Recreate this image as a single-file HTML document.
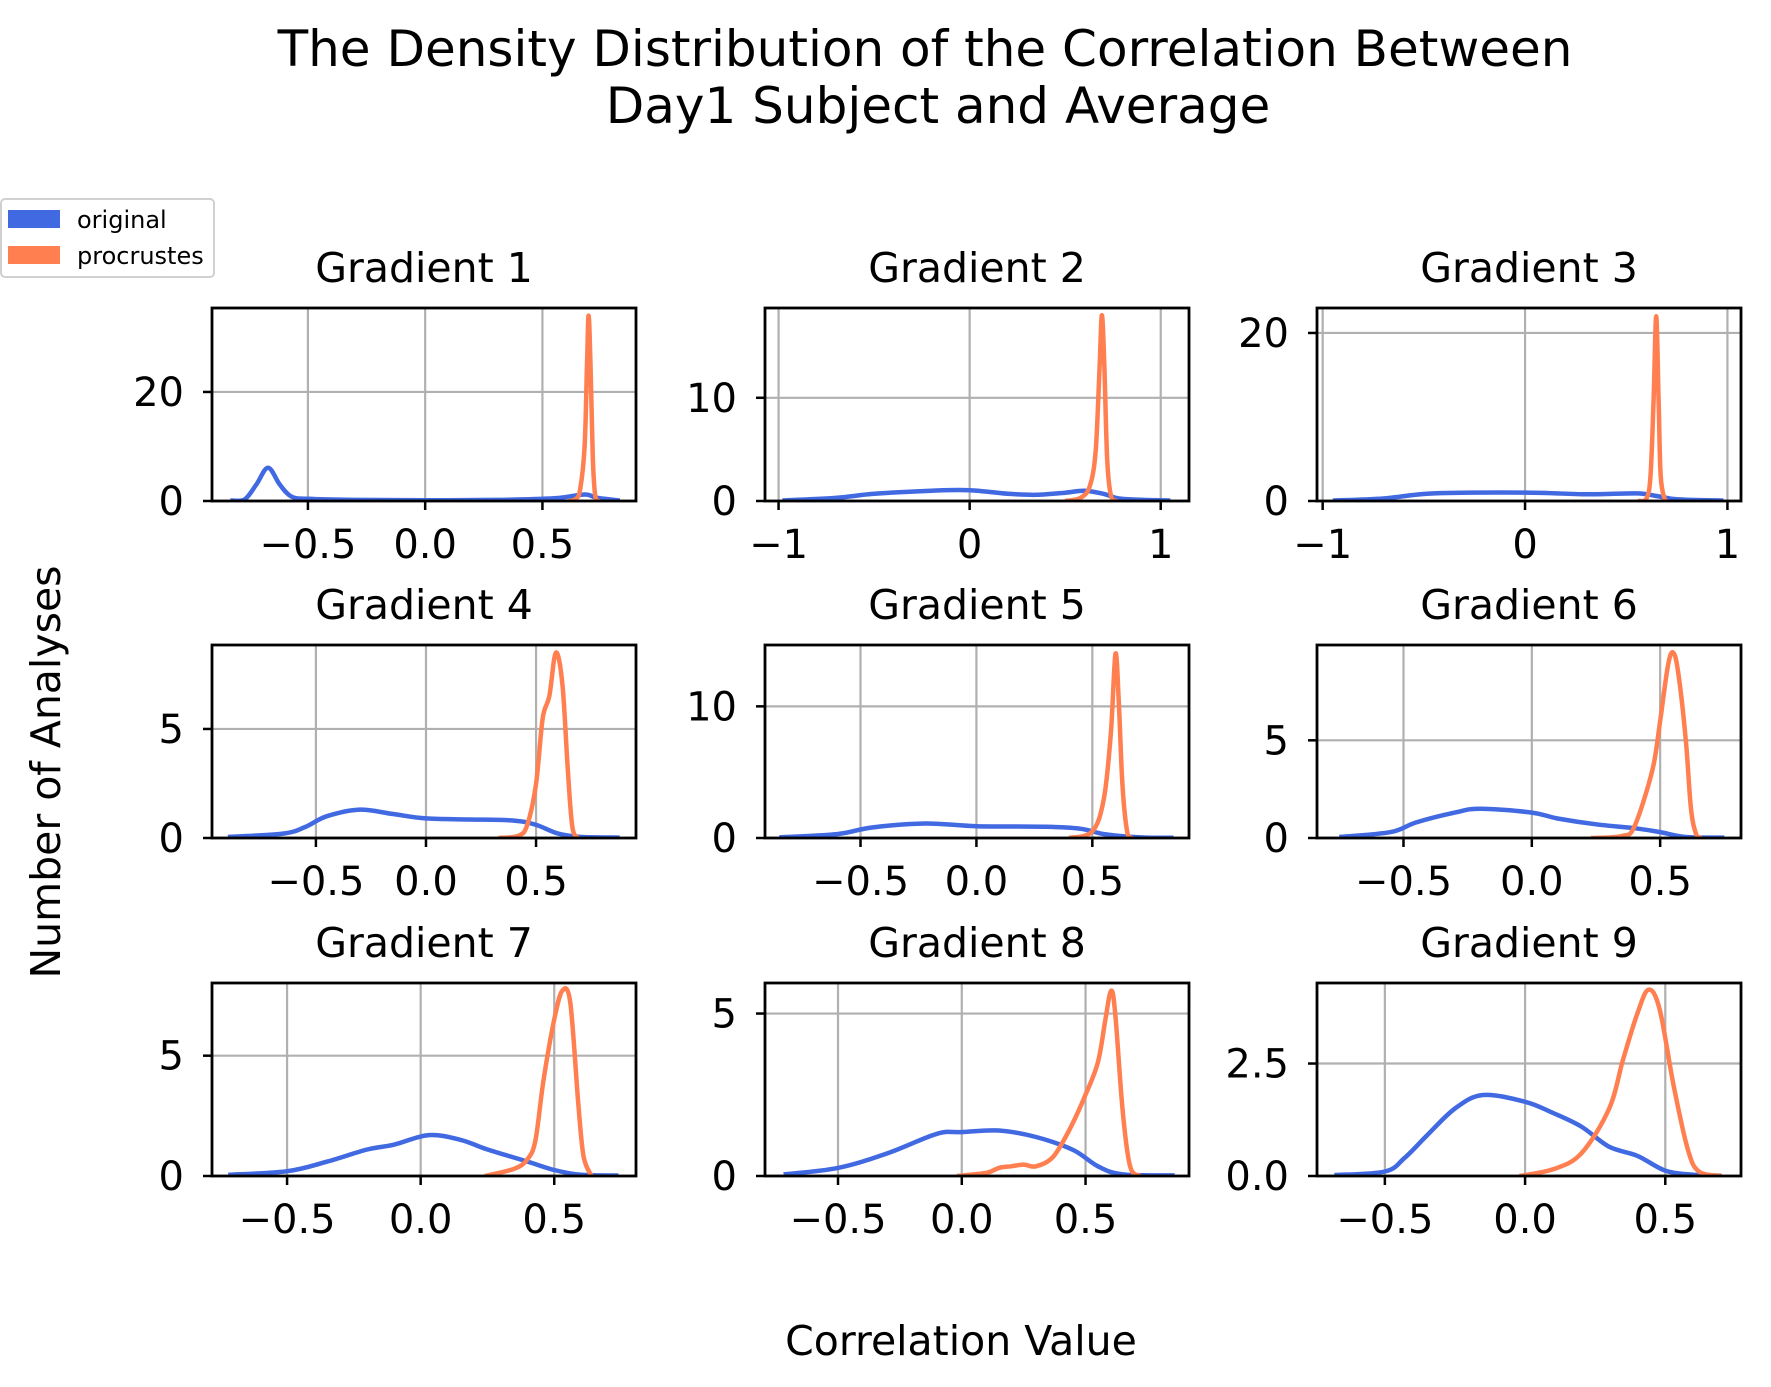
<!DOCTYPE html>
<html><head><meta charset="utf-8"><style>
html,body{margin:0;padding:0;background:#fff;}
svg{display:block;font-family:"DejaVu Sans","Liberation Sans",sans-serif;}
</style></head><body>
<svg id="chart" width="1771" height="1387" viewBox="0 0 1771 1387" xmlns="http://www.w3.org/2000/svg">
<text x="925" y="66" font-size="50" text-anchor="middle">The Density Distribution of the Correlation Between</text>
<text x="938" y="123" font-size="50" text-anchor="middle">Day1 Subject and Average</text>
<text transform="translate(60,772) rotate(-90)" font-size="41" text-anchor="middle">Number of Analyses</text>
<text x="961" y="1355" font-size="41" text-anchor="middle">Correlation Value</text>
<g>
<rect x="1" y="199" width="213" height="78" rx="4" fill="#fff" stroke="#d0d0d0" stroke-width="2"/>
<rect x="8" y="210" width="52" height="18" fill="#4169E1"/>
<text x="77" y="228" font-size="24">original</text>
<rect x="8" y="246" width="52" height="18" fill="#FF7F50"/>
<text x="77" y="264" font-size="24">procrustes</text>
</g>
<g id="plots"></g>
</svg>
<script>
const titles = ["Gradient 1","Gradient 2","Gradient 3","Gradient 4","Gradient 5","Gradient 6","Gradient 7","Gradient 8","Gradient 9"];
const xLimits = [[-0.909,0.899],[-1.071,1.148],[-1.028,1.067],[-0.972,0.954],[-0.912,0.917],[-0.837,0.815],[-0.781,0.806],[-0.795,0.918],[-0.742,0.770]];
const yLimits = [[0,35.4],[0,18.7],[0,22.97],[0,8.85],[0,14.66],[0,9.88],[0,8.02],[0,5.94],[0,4.29]];
const xTicks = [[-0.5,0,0.5],[-1,0,1],[-1,0,1],[-0.5,0,0.5],[-0.5,0,0.5],[-0.5,0,0.5],[-0.5,0,0.5],[-0.5,0,0.5],[-0.5,0,0.5]];
const xTickLabels = [["−0.5","0.0","0.5"],["−1","0","1"],["−1","0","1"],["−0.5","0.0","0.5"],["−0.5","0.0","0.5"],["−0.5","0.0","0.5"],["−0.5","0.0","0.5"],["−0.5","0.0","0.5"],["−0.5","0.0","0.5"]];
const yTicks = [[0,20],[0,10],[0,20],[0,5],[0,10],[0,5],[0,5],[0,5],[0,2.5]];
const yTickLabels = [["0","20"],["0","10"],["0","20"],["0","5"],["0","10"],["0","5"],["0","5"],["0","5"],["0.0","2.5"]];
const originalSeries = [
 [[-0.83,0.1],[-0.77,0.3],[-0.72,3],[-0.67,6.1],[-0.62,3],[-0.57,0.8],[-0.5,0.4],[-0.3,0.2],[0,0.15],[0.3,0.2],[0.55,0.5],[0.68,1.2],[0.73,0.6],[0.83,0.1]],
 [[-0.98,0.05],[-0.7,0.3],[-0.5,0.7],[-0.2,1],[0,1.05],[0.2,0.7],[0.35,0.6],[0.5,0.8],[0.6,1],[0.7,0.7],[0.8,0.2],[1.05,0.05]],
 [[-0.95,0.05],[-0.7,0.3],[-0.45,0.9],[0,1.0],[0.3,0.8],[0.55,0.9],[0.65,0.6],[0.75,0.2],[0.98,0.05]],
 [[-0.9,0.05],[-0.65,0.2],[-0.55,0.5],[-0.45,1],[-0.3,1.3],[-0.15,1.1],[0,0.9],[0.2,0.85],[0.4,0.8],[0.5,0.6],[0.6,0.2],[0.7,0.05],[0.88,0.02]],
 [[-0.85,0.05],[-0.6,0.3],[-0.45,0.8],[-0.22,1.1],[0,0.9],[0.3,0.85],[0.45,0.7],[0.55,0.3],[0.7,0.05],[0.85,0.02]],
 [[-0.75,0.05],[-0.55,0.3],[-0.45,0.8],[-0.3,1.3],[-0.2,1.5],[0,1.3],[0.1,1],[0.25,0.7],[0.4,0.5],[0.5,0.3],[0.6,0.05],[0.75,0.02]],
 [[-0.72,0.05],[-0.5,0.2],[-0.35,0.6],[-0.2,1.1],[-0.1,1.3],[0.03,1.7],[0.15,1.5],[0.25,1.1],[0.4,0.6],[0.5,0.25],[0.6,0.05],[0.74,0.02]],
 [[-0.72,0.05],[-0.5,0.25],[-0.3,0.7],[-0.1,1.3],[0,1.35],[0.15,1.4],[0.3,1.2],[0.45,0.8],[0.55,0.3],[0.65,0.05],[0.86,0.02]],
 [[-0.68,0.02],[-0.5,0.1],[-0.43,0.4],[-0.35,0.9],[-0.25,1.5],[-0.15,1.8],[0,1.65],[0.1,1.4],[0.2,1.1],[0.3,0.65],[0.4,0.45],[0.5,0.12],[0.6,0.03],[0.7,0.01]]
];
const procrustesSeries = [
 [[0.61,0],[0.64,0.3],[0.66,2],[0.68,10],[0.69,25],[0.697,34],[0.705,25],[0.715,8],[0.725,1],[0.74,0]],
 [[0.5,0],[0.58,0.3],[0.63,1.5],[0.66,5],[0.68,13],[0.692,18],[0.705,13],[0.72,4],[0.74,0.5],[0.77,0]],
 [[0.56,0],[0.6,0.3],[0.62,3],[0.635,12],[0.648,22],[0.66,12],[0.67,3],[0.69,0.2],[0.7,0]],
 [[0.33,0],[0.42,0.1],[0.46,0.6],[0.5,2.5],[0.53,5.5],[0.56,6.5],[0.59,8.5],[0.62,7],[0.645,3],[0.665,0.5],[0.69,0]],
 [[0.4,0],[0.5,0.5],[0.55,3],[0.58,8],[0.6,14],[0.615,10],[0.63,4],[0.65,0.5],[0.67,0]],
 [[0.23,0],[0.35,0.1],[0.4,0.6],[0.47,3.5],[0.5,6],[0.53,8.8],[0.55,9.5],[0.57,8.5],[0.6,5],[0.62,1.5],[0.64,0.2],[0.66,0]],
 [[0.24,0],[0.35,0.3],[0.4,0.7],[0.43,1.5],[0.46,4],[0.5,6.5],[0.53,7.7],[0.56,7.2],[0.59,3],[0.61,0.8],[0.64,0]],
 [[-0.02,0],[0.1,0.1],[0.15,0.25],[0.2,0.3],[0.25,0.35],[0.3,0.3],[0.37,0.6],[0.44,1.5],[0.5,2.5],[0.55,3.5],[0.58,4.8],[0.603,5.7],[0.62,5],[0.65,2],[0.68,0.3],[0.72,0]],
 [[-0.02,0],[0.1,0.15],[0.2,0.5],[0.3,1.5],[0.35,2.6],[0.4,3.6],[0.44,4.14],[0.48,3.7],[0.53,2],[0.58,0.6],[0.62,0.1],[0.7,0]]
];
const colLefts=[212,765,1317], colW=424, rowTops=[308,645,983], rowH=193;
const NS="http://www.w3.org/2000/svg";
const root=document.getElementById('plots');
function mk(tag,attrs,parent){const e=document.createElementNS(NS,tag);for(const k in attrs)e.setAttribute(k,attrs[k]);parent.appendChild(e);return e;}
function smooth(pts){
 let d="M"+pts[0][0].toFixed(1)+","+pts[0][1].toFixed(1);
 for(let i=0;i<pts.length-1;i++){
  const p0=pts[Math.max(i-1,0)],p1=pts[i],p2=pts[i+1],p3=pts[Math.min(i+2,pts.length-1)];
  const c1=[p1[0]+(p2[0]-p0[0])/6,p1[1]+(p2[1]-p0[1])/6],c2=[p2[0]-(p3[0]-p1[0])/6,p2[1]-(p3[1]-p1[1])/6];
  d+=" C"+c1.map(v=>v.toFixed(1))+" "+c2.map(v=>v.toFixed(1))+" "+p2.map(v=>v.toFixed(1));
 }
 return d;
}
for(let i=0;i<9;i++){
 const L=colLefts[i%3],T=rowTops[Math.floor(i/3)],R=L+colW,B=T+rowH;
 const [x0,x1]=xLimits[i],[y0,y1]=yLimits[i];
 const sx=v=>L+(v-x0)/(x1-x0)*colW, sy=v=>B-(v-y0)/(y1-y0)*rowH;
 const g=mk('g',{},root);
 
 
 const cp='clip'+i;
 const c=mk('clipPath',{id:cp},g); mk('rect',{x:L,y:T,width:colW,height:rowH},c);
 xTicks[i].forEach((t,j)=>{
  const x=sx(t);
  const gl=mk('line',{x1:x,x2:x,y1:T,y2:B,stroke:'#b0b0b0','stroke-width':2.2},g);
  
  
  mk('line',{x1:x,x2:x,y1:B,y2:B+9,stroke:'#000','stroke-width':2.5},g);
  const tx=mk('text',{x:x,y:B+57,'font-size':40,'text-anchor':'middle'},g);
  
  
  tx.textContent=xTickLabels[i][j];
 });
 yTicks[i].forEach((t,j)=>{
  const y=sy(t);
  const gl=mk('line',{x1:L,x2:R,y1:y,y2:y,stroke:'#b0b0b0','stroke-width':2.2},g);
  
  
  mk('line',{x1:L-9,x2:L,y1:y,y2:y,stroke:'#000','stroke-width':2.5},g);
  const tx=mk('text',{x:L-28,y:y+14,'font-size':40,'text-anchor':'end'},g);
  
  
  tx.textContent=yTickLabels[i][j];
 });
 const po=mk('path',{d:smooth(originalSeries[i].map(p=>[sx(p[0]),sy(p[1])])),fill:'none',stroke:'#4169E1','stroke-width':4.5,'stroke-linejoin':'round','clip-path':'url(#'+cp+')'},g);
 
 
 const pp=mk('path',{d:smooth(procrustesSeries[i].map(p=>[sx(p[0]),sy(p[1])])),fill:'none',stroke:'#FF7F50','stroke-width':4.5,'stroke-linejoin':'round','clip-path':'url(#'+cp+')'},g);
 
 
 const fr=mk('rect',{x:L,y:T,width:colW,height:rowH,fill:'none',stroke:'#000','stroke-width':2.8},g);
 
 
 const tt=mk('text',{x:L+colW/2,y:T-26,'font-size':41,'text-anchor':'middle'},g);
 
 
 tt.textContent=titles[i];
}
</script>
</body></html>
